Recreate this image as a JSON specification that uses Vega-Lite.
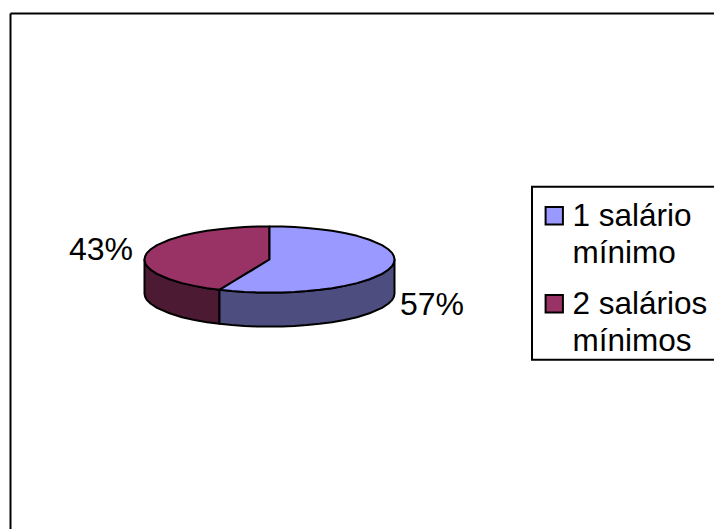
{
  "$schema": "https://vega.github.io/schema/vega-lite/v6.json",
  "width": 704,
  "height": 516,
  "padding": {"left": 10, "top": 13, "right": 0, "bottom": 0},
  "autosize": "none",
  "background": "white",
  "config": {"view": {"stroke": null}, "font": "Liberation Sans"},
  "datasets": {
    "fatias": [
      {"parte": "Lateral 2", "x": -100, "y": 0, "y2": -27.2},
      {"parte": "Lateral 2", "x": -99.5, "y": -2.6, "y2": -29.8},
      {"parte": "Lateral 2", "x": -98, "y": -5.3, "y2": -32.5},
      {"parte": "Lateral 2", "x": -95, "y": -8.2, "y2": -35.4},
      {"parte": "Lateral 2", "x": -90, "y": -11.5, "y2": -38.7},
      {"parte": "Lateral 2", "x": -80, "y": -15.8, "y2": -43},
      {"parte": "Lateral 2", "x": -70, "y": -18.9, "y2": -46.1},
      {"parte": "Lateral 2", "x": -60, "y": -21.1, "y2": -48.3},
      {"parte": "Lateral 2", "x": -50, "y": -22.9, "y2": -50.1},
      {"parte": "Lateral 2", "x": -40, "y": -24.2, "y2": -51.4},

      {"parte": "Lateral 1", "x": -40, "y": -24.2, "y2": -51.4},
      {"parte": "Lateral 1", "x": -30, "y": -25.2, "y2": -52.4},
      {"parte": "Lateral 1", "x": -20, "y": -25.9, "y2": -53.1},
      {"parte": "Lateral 1", "x": -10, "y": -26.3, "y2": -53.5},
      {"parte": "Lateral 1", "x": 0, "y": -26.4, "y2": -53.6},
      {"parte": "Lateral 1", "x": 10, "y": -26.3, "y2": -53.5},
      {"parte": "Lateral 1", "x": 20, "y": -25.9, "y2": -53.1},
      {"parte": "Lateral 1", "x": 30, "y": -25.2, "y2": -52.4},
      {"parte": "Lateral 1", "x": 40, "y": -24.2, "y2": -51.4},
      {"parte": "Lateral 1", "x": 50, "y": -22.9, "y2": -50.1},
      {"parte": "Lateral 1", "x": 60, "y": -21.1, "y2": -48.3},
      {"parte": "Lateral 1", "x": 70, "y": -18.9, "y2": -46.1},
      {"parte": "Lateral 1", "x": 80, "y": -15.8, "y2": -43},
      {"parte": "Lateral 1", "x": 90, "y": -11.5, "y2": -38.7},
      {"parte": "Lateral 1", "x": 95, "y": -8.2, "y2": -35.4},
      {"parte": "Lateral 1", "x": 98, "y": -5.3, "y2": -32.5},
      {"parte": "Lateral 1", "x": 99.5, "y": -2.6, "y2": -29.8},
      {"parte": "Lateral 1", "x": 100, "y": 0, "y2": -27.2},

      {"parte": "2 salários mínimos", "x": -100, "y": 0, "y2": 0},
      {"parte": "2 salários mínimos", "x": -99.5, "y": 2.6, "y2": -2.6},
      {"parte": "2 salários mínimos", "x": -98, "y": 5.3, "y2": -5.3},
      {"parte": "2 salários mínimos", "x": -95, "y": 8.2, "y2": -8.2},
      {"parte": "2 salários mínimos", "x": -90, "y": 11.5, "y2": -11.5},
      {"parte": "2 salários mínimos", "x": -80, "y": 15.8, "y2": -15.8},
      {"parte": "2 salários mínimos", "x": -70, "y": 18.9, "y2": -18.9},
      {"parte": "2 salários mínimos", "x": -60, "y": 21.1, "y2": -21.1},
      {"parte": "2 salários mínimos", "x": -50, "y": 22.9, "y2": -22.9},
      {"parte": "2 salários mínimos", "x": -40, "y": 24.2, "y2": -24.2},
      {"parte": "2 salários mínimos", "x": -30, "y": 25.2, "y2": -18.2},
      {"parte": "2 salários mínimos", "x": -20, "y": 25.9, "y2": -12.1},
      {"parte": "2 salários mínimos", "x": -10, "y": 26.3, "y2": -6.1},
      {"parte": "2 salários mínimos", "x": 0, "y": 26.4, "y2": 0},

      {"parte": "1 salário mínimo", "x": -40, "y": -24.2, "y2": -24.2},
      {"parte": "1 salário mínimo", "x": -30, "y": -18.2, "y2": -25.2},
      {"parte": "1 salário mínimo", "x": -20, "y": -12.1, "y2": -25.9},
      {"parte": "1 salário mínimo", "x": -10, "y": -6.1, "y2": -26.3},
      {"parte": "1 salário mínimo", "x": 0, "y": 0, "y2": -26.4},
      {"parte": "1 salário mínimo", "x": 0, "y": 26.4, "y2": -26.4},
      {"parte": "1 salário mínimo", "x": 10, "y": 26.3, "y2": -26.3},
      {"parte": "1 salário mínimo", "x": 20, "y": 25.9, "y2": -25.9},
      {"parte": "1 salário mínimo", "x": 30, "y": 25.2, "y2": -25.2},
      {"parte": "1 salário mínimo", "x": 40, "y": 24.2, "y2": -24.2},
      {"parte": "1 salário mínimo", "x": 50, "y": 22.9, "y2": -22.9},
      {"parte": "1 salário mínimo", "x": 60, "y": 21.1, "y2": -21.1},
      {"parte": "1 salário mínimo", "x": 70, "y": 18.9, "y2": -18.9},
      {"parte": "1 salário mínimo", "x": 80, "y": 15.8, "y2": -15.8},
      {"parte": "1 salário mínimo", "x": 90, "y": 11.5, "y2": -11.5},
      {"parte": "1 salário mínimo", "x": 95, "y": 8.2, "y2": -8.2},
      {"parte": "1 salário mínimo", "x": 98, "y": 5.3, "y2": -5.3},
      {"parte": "1 salário mínimo", "x": 99.5, "y": 2.6, "y2": -2.6},
      {"parte": "1 salário mínimo", "x": 100, "y": 0, "y2": 0}
    ],
    "rotulos": [
      {"categoria": "1 salário mínimo", "percentual": 0.57, "x": 130, "y": -36.2},
      {"categoria": "2 salários mínimos", "percentual": 0.43, "x": -134.8, "y": 7.8}
    ],
    "moldura": [
      {"ordem": 1, "x": 355.6, "y": 58.2},
      {"ordem": 2, "x": 210, "y": 58.2},
      {"ordem": 3, "x": 210, "y": -80.2},
      {"ordem": 4, "x": 355.6, "y": -80.2}
    ]
  },
  "encoding": {
    "x": {"field": "x", "type": "quantitative", "scale": {"domain": [-207.6, 355.6]},
      "axis": {"orient": "top", "title": null, "grid": false, "ticks": false, "labels": false, "domain": true, "domainColor": "black", "domainWidth": 2}},
    "y": {"field": "y", "type": "quantitative", "scale": {"domain": [-215.4, 197]},
      "axis": {"orient": "left", "title": null, "grid": false, "ticks": false, "labels": false, "domain": true, "domainColor": "black", "domainWidth": 2}}
  },
  "layer": [
    {
      "data": {"name": "moldura"},
      "mark": {"type": "line", "color": "black", "strokeWidth": 2},
      "encoding": {"order": {"field": "ordem"}}
    },
    {
      "data": {"name": "fatias"},
      "mark": {"type": "area", "stroke": "black", "strokeWidth": 2, "strokeJoin": "round", "opacity": 1},
      "encoding": {
        "y2": {"field": "y2"},
        "color": {
          "field": "parte",
          "type": "nominal",
          "scale": {
            "domain": ["1 salário mínimo", "2 salários mínimos", "Lateral 1", "Lateral 2"],
            "range": ["#9999FF", "#993366", "#4D4D80", "#4D1A33"]
          },
          "legend": {
            "values": ["1 salário mínimo", "2 salários mínimos"],
            "orient": "none",
            "legendX": 528.5,
            "legendY": 187,
            "title": null,
            "padding": 0,
            "symbolType": "square",
            "symbolSize": 300,
            "symbolStrokeColor": "black",
            "symbolStrokeWidth": 2,
            "symbolOpacity": 1,
            "labelFont": "Liberation Sans",
            "labelFontSize": 31.5,
            "labelColor": "black",
            "labelLimit": 300,
            "labelOffset": 2.5,
            "rowPadding": 18,
            "labelExpr": "datum.label[0] == '1' ? ['1 salário', 'mínimo'] : ['2 salários', 'mínimos']",
            "labelBaseline": "top",
            "encode": {"labels": {"update": {"lineHeight": {"value": 37}, "dy": {"value": -15}}}}
          }
        }
      }
    },
    {
      "data": {"name": "rotulos"},
      "mark": {"type": "text", "font": "Liberation Sans", "fontSize": 32, "color": "black"},
      "encoding": {
        "text": {"field": "percentual", "type": "quantitative", "format": ".0%"}
      }
    }
  ]
}
